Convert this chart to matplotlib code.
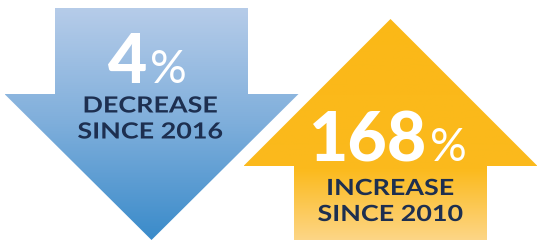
import numpy as np
import matplotlib.pyplot as plt
from matplotlib.patches import Polygon
from matplotlib.colors import LinearSegmentedColormap
from matplotlib.patheffects import AbstractPathEffect
from matplotlib.transforms import Affine2D

# values shown on the two arrows
pcts = ["4", "168"]
labels = ["DECREASE", "INCREASE"]
years = ["SINCE 2016", "SINCE 2010"]

W, H = 537, 240
fig = plt.figure(figsize=(W / 100, H / 100), dpi=100)
ax = fig.add_axes([0, 0, 1, 1])
ax.set_xlim(0, W)
ax.set_ylim(H, 0)
ax.axis("off")

navy = "#1d2f50"


class Stretch(AbstractPathEffect):
    # widen text horizontally around its centre (the original font is wide-tracked)
    def __init__(self, sx):
        super().__init__()
        self.sx = sx

    def draw_path(self, renderer, gc, tpath, affine, rgbFace=None):
        v = tpath.vertices
        cx = (v[:, 0].min() + v[:, 0].max()) / 2 if len(v) else 0
        t = Affine2D().translate(-cx, 0).scale(self.sx, 1).translate(cx, 0) + affine
        renderer.draw_path(gc, tpath, t, rgbFace)


def arrow(cx, y_flat, y_tip, shaft_end, colors, stops):
    sw, hw = 96.5, 147
    pts = [(cx - sw, shaft_end), (cx + sw, shaft_end), (cx + sw, y_flat),
           (cx + hw, y_flat), (cx, y_tip), (cx - hw, y_flat), (cx - sw, y_flat)]
    y0, y1 = min(shaft_end, y_tip), max(shaft_end, y_tip)
    poly = Polygon(pts, closed=True, facecolor="none", edgecolor="none")
    ax.add_patch(poly)
    cmap = LinearSegmentedColormap.from_list("g", list(zip(stops, colors)))
    grad = np.linspace(0, 1, 256).reshape(-1, 1)
    im = ax.imshow(grad, cmap=cmap, aspect="auto",
                   extent=(cx - hw, cx + hw, y1, y0), interpolation="bilinear")
    im.set_clip_path(poly)


arrow(151.5, 94, 240, 8, ["#b6cce9", "#7eaedb", "#3a8bca"], [0, 0.5, 1])
arrow(390.5, 166, 19, 241, ["#fbb817", "#fbba1d", "#fdd688"], [0, 0.68, 1])

font = "Lato"
wide = [Stretch(1.21)]

# blue arrow text
ax.text(147, 83, pcts[0], color="white", fontsize=49, fontweight="black",
        family=font, ha="right", va="baseline")
ax.text(150, 83, "%", color="white", fontsize=33, fontweight="normal",
        family=font, ha="left", va="baseline")
ax.text(150, 112.5, labels[0], color=navy, fontsize=16, fontweight="bold",
        family=font, ha="center", va="baseline", path_effects=wide)
ax.text(150, 138.5, years[0], color=navy, fontsize=16, fontweight="bold",
        family=font, ha="center", va="baseline", path_effects=wide)

# yellow arrow text
ax.text(427, 161, pcts[1], color="white", fontsize=49, fontweight="black",
        family=font, ha="right", va="baseline")
ax.text(430, 161, "%", color="white", fontsize=33, fontweight="normal",
        family=font, ha="left", va="baseline")
ax.text(390, 195, labels[1], color=navy, fontsize=16, fontweight="bold",
        family=font, ha="center", va="baseline", path_effects=wide)
ax.text(390, 221, years[1], color=navy, fontsize=16, fontweight="bold",
        family=font, ha="center", va="baseline", path_effects=wide)

fig.savefig("out.png", dpi=100)
